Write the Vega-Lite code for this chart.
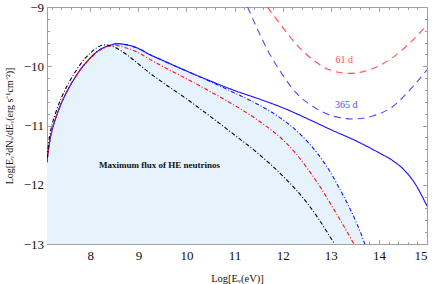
{
  "$schema": "https://vega.github.io/schema/vega-lite/v6.json",
  "width": 380,
  "height": 237,
  "autosize": {"type": "none"},
  "padding": {"left": 47, "top": 7, "right": 9, "bottom": 40},
  "background": "white",
  "config": {
    "view": {"stroke": "#a0a0a0", "strokeWidth": 1},
    "axis": {
      "grid": false,
      "domainColor": "#a0a0a0",
      "tickColor": "#a0a0a0",
      "labelFont": "Liberation Serif",
      "labelFontSize": 13,
      "labelColor": "#111111",
      "titleFont": "Liberation Serif",
      "titleFontWeight": "normal",
      "titleColor": "#111111"
    }
  },
  "datasets": {
    "curves": [
      {"curve": "solid", "x": 7.1, "y": -11.62},
      {"curve": "solid", "x": 7.15, "y": -11.3},
      {"curve": "solid", "x": 7.2, "y": -11.1},
      {"curve": "solid", "x": 7.3, "y": -10.83},
      {"curve": "solid", "x": 7.4, "y": -10.62},
      {"curve": "solid", "x": 7.5, "y": -10.45},
      {"curve": "solid", "x": 7.6, "y": -10.3},
      {"curve": "solid", "x": 7.7, "y": -10.17},
      {"curve": "solid", "x": 7.8, "y": -10.05},
      {"curve": "solid", "x": 7.9, "y": -9.95},
      {"curve": "solid", "x": 8.0, "y": -9.86},
      {"curve": "solid", "x": 8.2, "y": -9.72},
      {"curve": "solid", "x": 8.4, "y": -9.65},
      {"curve": "solid", "x": 8.55, "y": -9.62},
      {"curve": "solid", "x": 8.7, "y": -9.63},
      {"curve": "solid", "x": 9.0, "y": -9.7},
      {"curve": "solid", "x": 9.23, "y": -9.8},
      {"curve": "solid", "x": 9.5, "y": -9.9},
      {"curve": "solid", "x": 10.0, "y": -10.08},
      {"curve": "solid", "x": 10.5, "y": -10.25},
      {"curve": "solid", "x": 11.0, "y": -10.41},
      {"curve": "solid", "x": 11.5, "y": -10.55},
      {"curve": "solid", "x": 12.0, "y": -10.7},
      {"curve": "solid", "x": 12.5, "y": -10.88},
      {"curve": "solid", "x": 13.0, "y": -11.07},
      {"curve": "solid", "x": 13.5, "y": -11.25},
      {"curve": "solid", "x": 14.0, "y": -11.46},
      {"curve": "solid", "x": 14.3, "y": -11.6},
      {"curve": "solid", "x": 14.5, "y": -11.73},
      {"curve": "solid", "x": 14.75, "y": -11.98},
      {"curve": "solid", "x": 15.0, "y": -12.36},

      {"curve": "bdd", "x": 7.1, "y": -11.62},
      {"curve": "bdd", "x": 7.15, "y": -11.3},
      {"curve": "bdd", "x": 7.2, "y": -11.1},
      {"curve": "bdd", "x": 7.3, "y": -10.83},
      {"curve": "bdd", "x": 7.4, "y": -10.62},
      {"curve": "bdd", "x": 7.5, "y": -10.45},
      {"curve": "bdd", "x": 7.6, "y": -10.3},
      {"curve": "bdd", "x": 7.7, "y": -10.17},
      {"curve": "bdd", "x": 7.8, "y": -10.05},
      {"curve": "bdd", "x": 7.9, "y": -9.95},
      {"curve": "bdd", "x": 8.0, "y": -9.86},
      {"curve": "bdd", "x": 8.2, "y": -9.72},
      {"curve": "bdd", "x": 8.4, "y": -9.65},
      {"curve": "bdd", "x": 8.55, "y": -9.62},
      {"curve": "bdd", "x": 8.7, "y": -9.63},
      {"curve": "bdd", "x": 9.0, "y": -9.7},
      {"curve": "bdd", "x": 9.23, "y": -9.8},
      {"curve": "bdd", "x": 9.5, "y": -9.9},
      {"curve": "bdd", "x": 10.0, "y": -10.08},
      {"curve": "bdd", "x": 10.5, "y": -10.26},
      {"curve": "bdd", "x": 11.0, "y": -10.45},
      {"curve": "bdd", "x": 11.5, "y": -10.65},
      {"curve": "bdd", "x": 12.0, "y": -10.9},
      {"curve": "bdd", "x": 12.25, "y": -11.06},
      {"curve": "bdd", "x": 12.5, "y": -11.26},
      {"curve": "bdd", "x": 12.75, "y": -11.5},
      {"curve": "bdd", "x": 13.0, "y": -11.8},
      {"curve": "bdd", "x": 13.25, "y": -12.17},
      {"curve": "bdd", "x": 13.5, "y": -12.58},
      {"curve": "bdd", "x": 13.7, "y": -12.98},
      {"curve": "bdd", "x": 13.75, "y": -13.1},

      {"curve": "rdd", "x": 7.1, "y": -11.62},
      {"curve": "rdd", "x": 7.15, "y": -11.3},
      {"curve": "rdd", "x": 7.2, "y": -11.1},
      {"curve": "rdd", "x": 7.3, "y": -10.83},
      {"curve": "rdd", "x": 7.4, "y": -10.62},
      {"curve": "rdd", "x": 7.5, "y": -10.45},
      {"curve": "rdd", "x": 7.6, "y": -10.3},
      {"curve": "rdd", "x": 7.7, "y": -10.17},
      {"curve": "rdd", "x": 7.8, "y": -10.05},
      {"curve": "rdd", "x": 7.9, "y": -9.95},
      {"curve": "rdd", "x": 8.0, "y": -9.87},
      {"curve": "rdd", "x": 8.2, "y": -9.73},
      {"curve": "rdd", "x": 8.4, "y": -9.66},
      {"curve": "rdd", "x": 8.55, "y": -9.65},
      {"curve": "rdd", "x": 8.7, "y": -9.68},
      {"curve": "rdd", "x": 9.0, "y": -9.77},
      {"curve": "rdd", "x": 9.23, "y": -9.88},
      {"curve": "rdd", "x": 9.5, "y": -10.0},
      {"curve": "rdd", "x": 10.0, "y": -10.21},
      {"curve": "rdd", "x": 10.5, "y": -10.43},
      {"curve": "rdd", "x": 11.0, "y": -10.66},
      {"curve": "rdd", "x": 11.5, "y": -10.92},
      {"curve": "rdd", "x": 12.0, "y": -11.24},
      {"curve": "rdd", "x": 12.25, "y": -11.45},
      {"curve": "rdd", "x": 12.5, "y": -11.71},
      {"curve": "rdd", "x": 12.75, "y": -12.0},
      {"curve": "rdd", "x": 13.0, "y": -12.33},
      {"curve": "rdd", "x": 13.25, "y": -12.67},
      {"curve": "rdd", "x": 13.5, "y": -13.03},

      {"curve": "kdd", "x": 7.1, "y": -11.55},
      {"curve": "kdd", "x": 7.15, "y": -11.2},
      {"curve": "kdd", "x": 7.2, "y": -11.0},
      {"curve": "kdd", "x": 7.3, "y": -10.74},
      {"curve": "kdd", "x": 7.4, "y": -10.53},
      {"curve": "kdd", "x": 7.5, "y": -10.36},
      {"curve": "kdd", "x": 7.6, "y": -10.21},
      {"curve": "kdd", "x": 7.7, "y": -10.08},
      {"curve": "kdd", "x": 7.8, "y": -9.96},
      {"curve": "kdd", "x": 7.9, "y": -9.86},
      {"curve": "kdd", "x": 8.0, "y": -9.78},
      {"curve": "kdd", "x": 8.15, "y": -9.68},
      {"curve": "kdd", "x": 8.3, "y": -9.64},
      {"curve": "kdd", "x": 8.45, "y": -9.66},
      {"curve": "kdd", "x": 8.6, "y": -9.72},
      {"curve": "kdd", "x": 8.8, "y": -9.83},
      {"curve": "kdd", "x": 9.0, "y": -9.96},
      {"curve": "kdd", "x": 9.23, "y": -10.11},
      {"curve": "kdd", "x": 9.5, "y": -10.27},
      {"curve": "kdd", "x": 10.0, "y": -10.55},
      {"curve": "kdd", "x": 10.5, "y": -10.85},
      {"curve": "kdd", "x": 11.0, "y": -11.16},
      {"curve": "kdd", "x": 11.5, "y": -11.48},
      {"curve": "kdd", "x": 12.0, "y": -11.85},
      {"curve": "kdd", "x": 12.5, "y": -12.3},
      {"curve": "kdd", "x": 12.75, "y": -12.58},
      {"curve": "kdd", "x": 13.0, "y": -12.9},
      {"curve": "kdd", "x": 13.1, "y": -13.03},

      {"curve": "d61", "x": 11.68, "y": -9.0},
      {"curve": "d61", "x": 11.93, "y": -9.27},
      {"curve": "d61", "x": 12.14, "y": -9.49},
      {"curve": "d61", "x": 12.4, "y": -9.73},
      {"curve": "d61", "x": 12.63, "y": -9.89},
      {"curve": "d61", "x": 12.97, "y": -10.06},
      {"curve": "d61", "x": 13.39, "y": -10.12},
      {"curve": "d61", "x": 13.8, "y": -10.06},
      {"curve": "d61", "x": 14.22, "y": -9.89},
      {"curve": "d61", "x": 14.64, "y": -9.61},
      {"curve": "d61", "x": 15.0, "y": -9.3},

      {"curve": "d365", "x": 11.27, "y": -9.0},
      {"curve": "d365", "x": 11.5, "y": -9.42},
      {"curve": "d365", "x": 11.7, "y": -9.75},
      {"curve": "d365", "x": 11.93, "y": -10.06},
      {"curve": "d365", "x": 12.28, "y": -10.45},
      {"curve": "d365", "x": 12.63, "y": -10.68},
      {"curve": "d365", "x": 13.04, "y": -10.84},
      {"curve": "d365", "x": 13.46, "y": -10.89},
      {"curve": "d365", "x": 13.87, "y": -10.84},
      {"curve": "d365", "x": 14.29, "y": -10.68},
      {"curve": "d365", "x": 14.71, "y": -10.34},
      {"curve": "d365", "x": 15.0, "y": -10.06}
    ],
    "labels": [
      {"x": 13.28, "y": -9.89, "text": "61 d", "kind": "d61"},
      {"x": 13.32, "y": -10.65, "text": "365 d", "kind": "d365"}
    ],
    "note": [
      {"x": 9.44, "y": -11.66, "text": "Maximum flux of HE neutrinos"}
    ]
  },
  "resolve": {"axis": {"x": "independent", "y": "independent"}},
  "layer": [
    {
      "data": {"name": "curves"},
      "transform": [{"filter": "datum.curve === 'bdd'"}],
      "mark": {"type": "area", "color": "#e6f3fd", "clip": true, "interpolate": "monotone"},
      "encoding": {
        "x": {
          "field": "x", "type": "quantitative",
          "scale": {"domain": [7.1, 15], "nice": false, "zero": false},
          "axis": {
            "orient": "bottom", "values": [8, 9, 10, 11, 12, 13, 14, 15],
            "tickSize": -4.5, "labelPadding": 10, "domain": true,
            "title": "Log[Eᵥ(eV)]", "titleFontSize": 10.5, "titlePadding": 11
          }
        },
        "y": {
          "field": "y", "type": "quantitative",
          "scale": {"domain": [-13, -9], "nice": false, "zero": false},
          "axis": {
            "orient": "left", "values": [-13, -12, -11, -10, -9],
            "tickSize": -4.5, "labelPadding": 8, "domain": true,
            "title": "Log[Eᵥ²dNᵥ/dEᵥ(erg s⁻¹cm⁻²)]", "titleFontSize": 10, "titlePadding": 9
          }
        },
        "y2": {"datum": -13}
      }
    },
    {
      "data": {"name": "curves"},
      "mark": {"type": "line", "clip": true, "interpolate": "monotone"},
      "encoding": {
        "x": {
          "field": "x", "type": "quantitative",
          "axis": {
            "orient": "bottom",
            "values": [7.2, 7.4, 7.6, 7.8, 8.2, 8.4, 8.6, 8.8, 9.2, 9.4, 9.6, 9.8, 10.2, 10.4, 10.6, 10.8, 11.2, 11.4, 11.6, 11.8, 12.2, 12.4, 12.6, 12.8, 13.2, 13.4, 13.6, 13.8, 14.2, 14.4, 14.6, 14.8],
            "tickSize": -2.5, "labels": false, "domain": false, "title": null
          }
        },
        "y": {
          "field": "y", "type": "quantitative",
          "axis": {
            "orient": "left",
            "values": [-12.8, -12.6, -12.4, -12.2, -11.8, -11.6, -11.4, -11.2, -10.8, -10.6, -10.4, -10.2, -9.8, -9.6, -9.4, -9.2],
            "tickSize": -2.5, "labels": false, "domain": false, "title": null
          }
        },
        "detail": {"field": "curve"},
        "color": {
          "field": "curve", "type": "nominal", "legend": null,
          "scale": {"domain": ["kdd", "rdd", "bdd", "solid", "d61", "d365"], "range": ["#000000", "#ff1010", "#1010ff", "#1010ff", "#ff4d4d", "#4d4dff"]}
        },
        "strokeDash": {
          "field": "curve", "type": "nominal", "legend": null,
          "scale": {"domain": ["kdd", "rdd", "bdd", "solid", "d61", "d365"], "range": [[4, 2, 1, 2], [4, 2, 1, 2], [4, 2, 1, 2], [1, 0], [7, 5], [7, 5]]}
        },
        "strokeWidth": {
          "field": "curve", "type": "nominal", "legend": null,
          "scale": {"domain": ["kdd", "rdd", "bdd", "solid", "d61", "d365"], "range": [1.1, 1.1, 1.1, 1.3, 0.9, 0.9]}
        }
      }
    },
    {
      "data": {"name": "labels"},
      "mark": {"type": "text", "font": "Liberation Serif", "fontSize": 10, "align": "center", "baseline": "middle"},
      "encoding": {
        "x": {
          "field": "x", "type": "quantitative",
          "axis": {"orient": "top", "values": [8, 9, 10, 11, 12, 13, 14, 15], "tickSize": -4.5, "labels": false, "domain": true, "title": null}
        },
        "y": {
          "field": "y", "type": "quantitative",
          "axis": {"orient": "right", "values": [-13, -12, -11, -10, -9], "tickSize": -4.5, "labels": false, "domain": true, "title": null}
        },
        "text": {"field": "text"},
        "color": {
          "field": "kind", "type": "nominal", "legend": null,
          "scale": {"domain": ["d61", "d365"], "range": ["#e83030", "#3a3ae8"]}
        }
      }
    },
    {
      "data": {"name": "note"},
      "mark": {"type": "text", "font": "Liberation Serif", "fontSize": 9, "fontWeight": "bold", "color": "#111111", "align": "center", "baseline": "middle"},
      "encoding": {
        "x": {
          "field": "x", "type": "quantitative",
          "axis": {
            "orient": "top",
            "values": [7.2, 7.4, 7.6, 7.8, 8.2, 8.4, 8.6, 8.8, 9.2, 9.4, 9.6, 9.8, 10.2, 10.4, 10.6, 10.8, 11.2, 11.4, 11.6, 11.8, 12.2, 12.4, 12.6, 12.8, 13.2, 13.4, 13.6, 13.8, 14.2, 14.4, 14.6, 14.8],
            "tickSize": -2.5, "labels": false, "domain": false, "title": null
          }
        },
        "y": {
          "field": "y", "type": "quantitative",
          "axis": {
            "orient": "right",
            "values": [-12.8, -12.6, -12.4, -12.2, -11.8, -11.6, -11.4, -11.2, -10.8, -10.6, -10.4, -10.2, -9.8, -9.6, -9.4, -9.2],
            "tickSize": -2.5, "labels": false, "domain": false, "title": null
          }
        },
        "text": {"field": "text"}
      }
    }
  ]
}
